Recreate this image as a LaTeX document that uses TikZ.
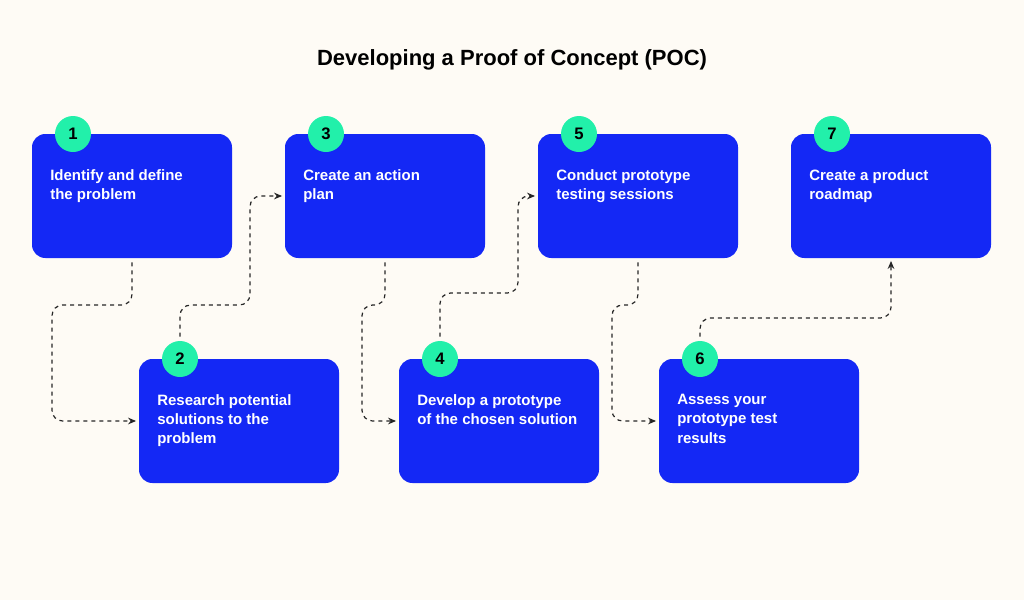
\documentclass[tikz,border=0pt]{standalone}
\usepackage{fontspec}
\setmainfont{Liberation Sans}
\usetikzlibrary{arrows.meta}
\definecolor{bgcol}{HTML}{FEFBF5}
\definecolor{boxblue}{HTML}{1428F5}
\definecolor{mint}{HTML}{22F0AA}
\tikzstyle{stepbox} = [rectangle, fill=boxblue, rounded corners=10pt, minimum width=150pt, minimum height=93pt, inner sep=0pt]
\tikzstyle{steptext} = [anchor=north west, align=left, text=white, font=\fontsize{11.25}{14.5}\selectfont\bfseries, inner sep=0pt]
\tikzstyle{badge} = [circle, fill=mint, minimum size=27pt, inner sep=0pt, font=\fontsize{12.5}{14}\selectfont\bfseries]
\tikzstyle{connector} = [dashed, line width=0.9pt, rounded corners=8pt, -{Stealth[length=6pt,width=5pt]}, shorten <=3pt, shorten >=2pt, color=black!85]

\begin{document}
\begin{tikzpicture}[x=0.75pt,y=-0.75pt]
    \fill[bgcol] (0,0) rectangle (1024,600);
    \useasboundingbox (0,0) rectangle (1024,600);
    \node (title) at (512,60) [font=\fontsize{16.5}{18}\selectfont\bfseries] {Developing a Proof of Concept (POC)};
    % boxes
    \node (b1) at (132,196) [stepbox] {};
    \node (b3) at (385,196) [stepbox] {};
    \node (b5) at (638,196) [stepbox] {};
    \node (b7) at (891,196) [stepbox] {};
    \node (b2) at (239,421) [stepbox] {};
    \node (b4) at (499,421) [stepbox] {};
    \node (b6) at (759,421) [stepbox] {};
    % texts
    \node (t1) at (50,169) [steptext] {Identify and define\\the problem};
    \node (t3) at (303,169) [steptext] {Create an action\\plan};
    \node (t5) at (556,169) [steptext] {Conduct prototype\\testing sessions};
    \node (t7) at (809,169) [steptext] {Create a product\\roadmap};
    \node (t2) at (157,394) [steptext] {Research potential\\solutions to the\\problem};
    \node (t4) at (417,394) [steptext] {Develop a prototype\\of the chosen solution};
    \node (t6) at (677,394) [steptext] {Assess your\\prototype test\\results};
    % badges
    \node (c1) at (73,134) [badge] {1};
    \node (c3) at (326,134) [badge] {3};
    \node (c5) at (579,134) [badge] {5};
    \node (c7) at (832,134) [badge] {7};
    \node (c2) at (180,359) [badge] {2};
    \node (c4) at (440,359) [badge] {4};
    \node (c6) at (700,359) [badge] {6};
    % connectors
    \draw [connector] (b1.south) |- (52,305) |- (b2.west);
    \draw [connector] (c2.north) |- (250,305) |- (b3.west);
    \draw [connector] (b3.south) |- (362,305) |- (b4.west);
    \draw [connector] (c4.north) |- (518,293) |- (b5.west);
    \draw [connector] (b5.south) |- (612,305) |- (b6.west);
    \draw [connector] (c6.north) |- (891,318) -- (b7.south);
\end{tikzpicture}
\end{document}
